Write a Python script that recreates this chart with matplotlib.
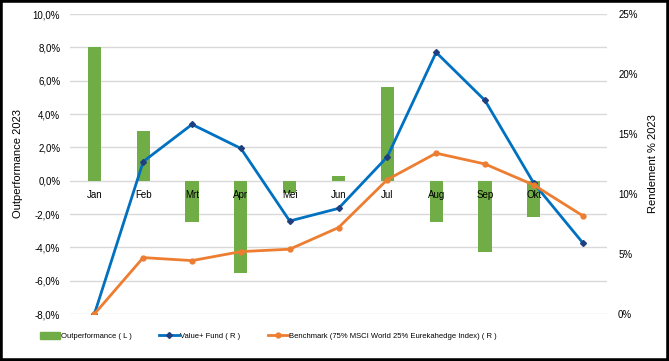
import numpy as np
import matplotlib.pyplot as plt
from matplotlib.ticker import FuncFormatter, MultipleLocator
from matplotlib.patches import Rectangle
from matplotlib.lines import Line2D

months = ["Jan", "Feb", "Mrt", "Apr", "Mei", "Jun", "Jul", "Aug", "Sep", "Okt", ""]
outperf = [8.0, 3.0, -2.45, -5.55, -0.75, 0.3, 5.6, -2.45, -4.3, -2.2, np.nan]
fund = [0.0, 12.7, 15.8, 13.8, 7.75, 8.8, 13.1, 21.8, 17.8, 10.9, 5.95]
bench = [0.0, 4.7, 4.45, 5.2, 5.4, 7.2, 11.2, 13.4, 12.5, 10.75, 8.2]

green = "#70AD47"
blue = "#0070C0"
orange = "#ED7D31"

plt.rcParams['font.family'] = ['Liberation Sans', 'DejaVu Sans']
fs = 7

fig = plt.figure(figsize=(6.69, 3.61), dpi=100)
ax = fig.add_axes([70/669, 47/361, 537/669, 300/361])
x = np.arange(len(months))

ax.bar(x, outperf, width=0.27, color=green, zorder=2)
ax.set_xlim(-0.5, 10.5)
ax.set_ylim(-8, 10)
ax.yaxis.set_major_locator(MultipleLocator(2))
ax.yaxis.set_major_formatter(FuncFormatter(lambda v, p: f"{v:.1f}%".replace(".", ",")))
ax.grid(axis='y', color='#d9d9d9', linewidth=1, zorder=0)
ax.set_axisbelow(True)
for s in ax.spines.values():
    s.set_visible(False)
ax.set_xticks([])
# category labels sit just under the zero line, drawn over the bars
for xi, m in zip(x, months):
    ax.text(xi, -0.85, m, ha='center', va='center', fontsize=fs, zorder=5)
ax.tick_params(axis='y', length=0, pad=7, labelsize=fs)
ax.set_ylabel("Outperformance 2023", fontsize=fs + 1)
ax.yaxis.set_label_coords(-0.088, 0.5)

ax2 = ax.twinx()
ax2.plot(x, fund, color=blue, linewidth=2, marker='D', markersize=3,
         markerfacecolor='#1F3F7F', markeredgecolor='#1F3F7F', zorder=3)
ax2.plot(x, bench, color=orange, linewidth=2, marker='o', markersize=3.5,
         markerfacecolor=orange, markeredgecolor=orange, zorder=3)
ax2.set_ylim(0, 25)
ax2.yaxis.set_major_locator(MultipleLocator(5))
ax2.yaxis.set_major_formatter(FuncFormatter(lambda v, p: f"{v:.0f}%"))
for s in ax2.spines.values():
    s.set_visible(False)
ax2.tick_params(axis='y', length=0, pad=8, labelsize=fs)
ax2.set_ylabel("Rendement % 2023", fontsize=fs + 1)
ax2.yaxis.set_label_coords(1.076, 0.5)

handles = [
    Rectangle((0, 0), 1, 1, color=green),
    Line2D([], [], color=blue, linewidth=2, marker='D', markersize=3,
           markerfacecolor='#1F3F7F', markeredgecolor='#1F3F7F'),
    Line2D([], [], color=orange, linewidth=2, marker='o', markersize=3.5),
]
labels = ["Outperformance ( L )", "Value+ Fund ( R )",
          "Benchmark (75% MSCI World 25% Eurekahedge Index) ( R )"]
fig.legend(handles, labels, loc='center left', bbox_to_anchor=(33/669, 1 - 336/361),
           ncol=3, frameon=False, fontsize=5.5, handlelength=2.6, handleheight=1.0,
           handletextpad=0.15, columnspacing=3.6)

fig.patches.append(Rectangle((0, 0), 1, 1, transform=fig.transFigure, fill=False,
                             edgecolor='black', linewidth=4))

plt.savefig('out.png', dpi=100)
